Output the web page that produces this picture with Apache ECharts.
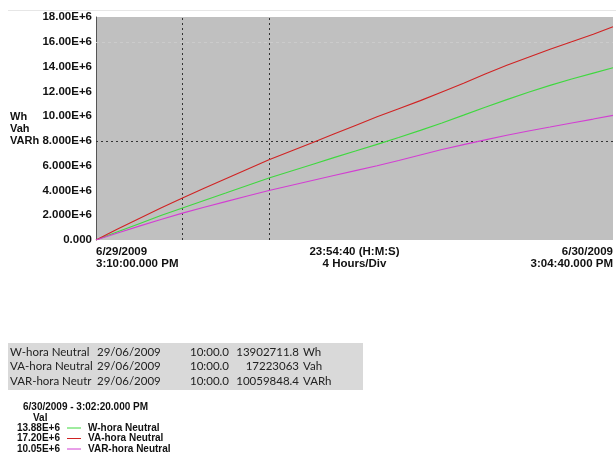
<!DOCTYPE html>
<html>
<head>
<meta charset="utf-8">
<script src="https://cdn.jsdelivr.net/npm/echarts@6/dist/echarts.min.js"></script>
<style>
  html, body { margin: 0; padding: 0; background: #fff; }
  #main { width: 616px; height: 460px; }
</style>
</head>
<body>
<div id="main"></div>
<script>
// hours after 6/29/2009 3:10:00 PM (span 23:54:40)
const hours = [0, 1, 2, 3, 4, 5, 6, 7, 8, 9, 10, 11, 12, 13, 14, 15, 16, 17, 18, 19, 20, 21, 22, 23, 23.911]
// values in E+6
const whNeutral = [0, 0.66, 1.32, 1.97, 2.59, 3.19, 3.79, 4.40, 5.00, 5.55, 6.10, 6.65, 7.18, 7.72, 8.27, 8.85, 9.45, 10.08, 10.72, 11.33, 11.93, 12.48, 13.00, 13.47, 13.90]
const vahNeutral = [0, 0.88, 1.74, 2.58, 3.40, 4.18, 4.95, 5.72, 6.48, 7.17, 7.85, 8.55, 9.25, 9.95, 10.60, 11.25, 11.95, 12.65, 13.40, 14.10, 14.75, 15.40, 16.00, 16.60, 17.22]
const varhNeutral = [0, 0.56, 1.12, 1.66, 2.17, 2.64, 3.10, 3.55, 4.00, 4.40, 4.80, 5.20, 5.60, 6.00, 6.42, 6.86, 7.30, 7.70, 8.08, 8.45, 8.80, 9.12, 9.45, 9.76, 10.06]

const xLabels = ['6/29/2009\n3:10:00.000 PM', '23:54:40 (H:M:S)\n4 Hours/Div', '6/30/2009\n3:04:40.000 PM']
const xLabelPos = [0, 11.9556, 23.911]
const divLines = [4, 8]

const tableNames = ['W-hora Neutral', 'VA-hora Neutral', 'VAR-hora Neutra']
const tableDates = ['29/06/2009', '29/06/2009', '29/06/2009']
const tableTimes = ['10:00.0', '10:00.0', '10:00.0']
const tableValues = ['13902711.8', '17223063', '10059848.4']
const tableUnits = ['Wh', 'Vah', 'VARh']

const legendNames = ['W-hora Neutral', 'VA-hora Neutral', 'VAR-hora Neutral']
const legendVals = ['13.88E+6', '17.20E+6', '10.05E+6']
const colors = ['#3fd83f', '#d02323', '#d23fd2']

const myChart = echarts.init(document.getElementById('main'))

const axisFamily = '"Liberation Sans", Arial, sans-serif'
const bold = 'bold 10px ' + axisFamily
const cellFont = '11.5px Lato, "Open Sans", sans-serif'

const graphics = [
  // faint top rule
  { type: 'line', shape: { x1: 8, y1: 10.5, x2: 616, y2: 10.5 }, style: { stroke: '#e6e6e6', lineWidth: 1 } },
  // y axis name
  { type: 'text', left: 10, top: 111, style: { text: 'Wh\nVah\nVARh', font: 'bold 11px ' + axisFamily, lineHeight: 12, fill: '#111' } },
  // table background
  { type: 'rect', shape: { x: 8, y: 343, width: 355, height: 47 }, style: { fill: '#d9d9d9' } },
  // legend header
  { type: 'text', x: 23, y: 407, style: { text: '6/30/2009 - 3:02:20.000 PM', font: bold, fill: '#111', verticalAlign: 'middle' } },
  { type: 'text', x: 33, y: 418, style: { text: 'Val', font: bold, fill: '#111', verticalAlign: 'middle' } },
]

tableNames.forEach((n, i) => {
  const y = 352 + i * 14.5
  graphics.push(
    { type: 'text', x: 10, y: y, style: { text: n, font: cellFont, fill: '#222', verticalAlign: 'middle', width: 85, overflow: 'truncate', ellipsis: '' } },
    { type: 'text', x: 97, y: y, style: { text: tableDates[i], font: cellFont, fill: '#222', verticalAlign: 'middle' } },
    { type: 'text', x: 190, y: y, style: { text: tableTimes[i], font: cellFont, fill: '#222', verticalAlign: 'middle' } },
    { type: 'text', x: 299, y: y, style: { text: tableValues[i], font: cellFont, fill: '#222', verticalAlign: 'middle', align: 'right' } },
    { type: 'text', x: 303, y: y, style: { text: tableUnits[i], font: cellFont, fill: '#222', verticalAlign: 'middle' } }
  )
})

legendNames.forEach((n, i) => {
  const y = 428 + i * 10.5
  graphics.push(
    { type: 'text', x: 60, y: y, style: { text: legendVals[i], font: bold, fill: '#111', verticalAlign: 'middle', align: 'right' } },
    { type: 'line', shape: { x1: 67, y1: y, x2: 81, y2: y }, style: { stroke: colors[i], lineWidth: 1 } },
    { type: 'text', x: 88, y: y, style: { text: n, font: bold, fill: '#111', verticalAlign: 'middle' } }
  )
})

const makeSeries = (name, vals, color, extra) => Object.assign({
  name: name,
  type: 'line',
  data: hours.map((h, i) => [h, vals[i]]),
  symbol: 'none',
  smooth: false,
  lineStyle: { color: color, width: 1.1 },
  itemStyle: { color: color },
  z: 3,
}, extra || {})

const option = {
  animation: false,
  grid: {
    left: 96, top: 17, right: 0, bottom: 220,
    show: true, backgroundColor: '#c0c0c0', borderWidth: 0,
  },
  xAxis: {
    type: 'value',
    min: 0,
    max: 23.911,
    axisLine: { show: false },
    axisTick: { show: false },
    splitLine: { show: false },
    axisLabel: {
      customValues: xLabelPos,
      alignMinLabel: 'left',
      alignMaxLabel: 'right',
      margin: 6,
      fontWeight: 'bold',
      fontSize: 11.5,
      fontFamily: axisFamily,
      color: '#111',
      lineHeight: 12,
      formatter: (v) => {
        const k = xLabelPos.findIndex((p) => Math.abs(p - v) < 0.01)
        return k >= 0 ? xLabels[k] : ''
      },
    },
  },
  yAxis: {
    type: 'value',
    min: 0,
    max: 18,
    interval: 2,
    axisLine: { show: true, lineStyle: { color: '#555', width: 1 } },
    axisTick: { show: false },
    splitLine: { show: false },
    axisLabel: {
      margin: 4,
      fontWeight: 'bold',
      fontSize: 11.5,
      fontFamily: axisFamily,
      color: '#111',
      formatter: (v) => (v === 0 ? '0.000' : v.toPrecision(4) + 'E+6'),
    },
  },
  series: [
    makeSeries('W-hora Neutral', whNeutral, colors[0], {
      markLine: {
        silent: true,
        symbol: 'none',
        label: { show: false },
        lineStyle: { color: '#333', width: 1, type: [2, 3] },
        data: [
          ...divLines.map((h) => ({ xAxis: h })),
          { yAxis: 8 },
          { yAxis: 16, lineStyle: { color: '#cbcbcb', type: [3, 3] } },
        ],
        z: 2,
      },
    }),
    makeSeries('VA-hora Neutral', vahNeutral, colors[1]),
    makeSeries('VAR-hora Neutral', varhNeutral, colors[2]),
  ],
  graphic: graphics,
}

myChart.setOption(option)
window.addEventListener('resize', function () {
  myChart.resize()
})
</script>
</body>
</html>
